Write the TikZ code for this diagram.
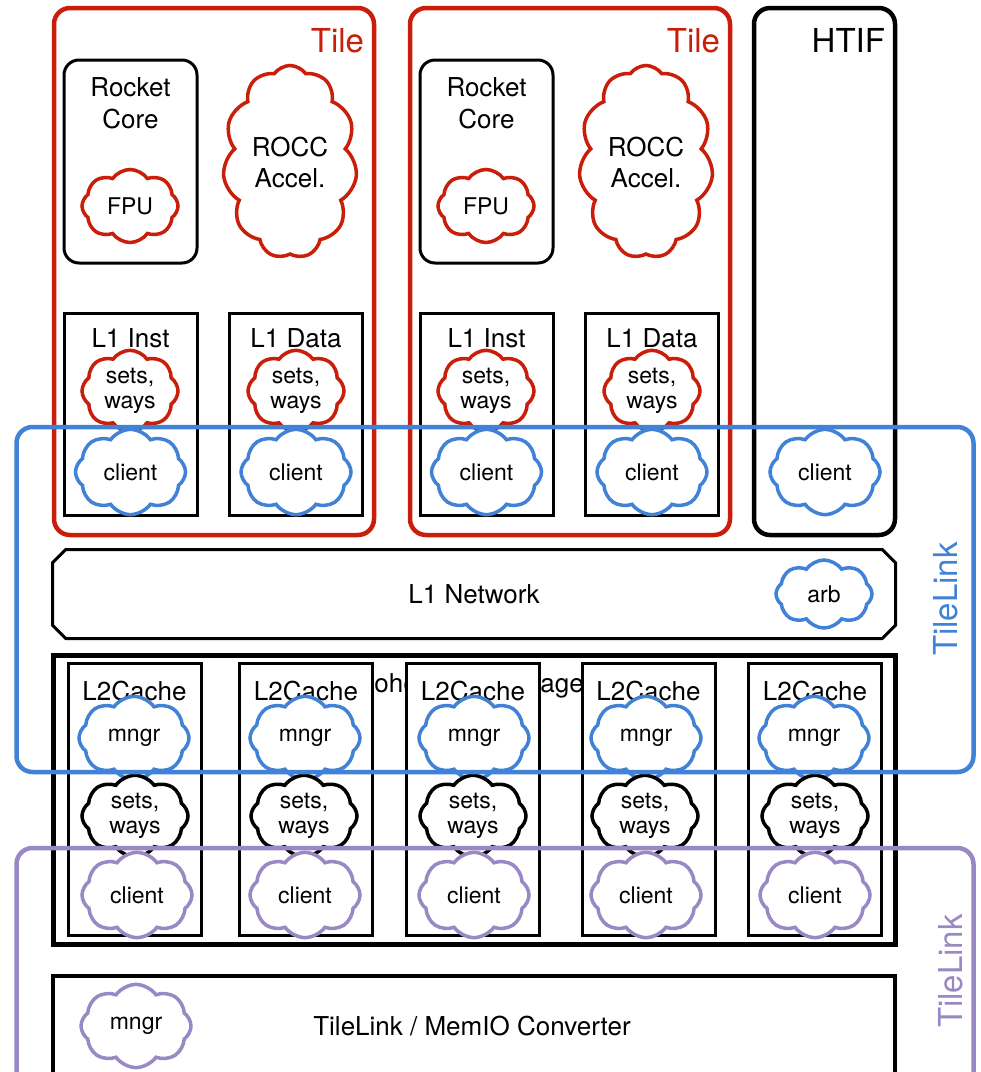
\documentclass[tikz,border=0pt]{standalone}
\usepackage{fontspec}
\setmainfont{TeX Gyre Heros}
\usetikzlibrary{positioning, shapes.symbols, shapes.misc}

\definecolor{tilered}{RGB}{200,30,10}
\definecolor{linkblue}{RGB}{65,130,215}
\definecolor{linkpurple}{RGB}{152,136,196}

\begin{document}
\begin{tikzpicture}[x=1pt, y=-1pt,
  tile/.style={draw=tilered, line width=4.5pt, rounded corners=16pt,
    minimum width=320pt, minimum height=527pt, inner sep=0pt},
  htifbox/.style={draw, line width=4.5pt, rounded corners=16pt,
    minimum width=141pt, minimum height=527pt, inner sep=0pt},
  corebox/.style={draw, line width=3pt, rounded corners=15pt, fill=white,
    minimum width=133pt, minimum height=203pt, inner sep=0pt},
  cachebox/.style={draw, line width=3pt, fill=white,
    minimum width=133pt, minimum height=202pt, inner sep=0pt},
  l2box/.style={draw, line width=3pt, fill=white,
    minimum width=133pt, minimum height=272pt, inner sep=0pt},
  blob/.style={cloud, draw, line width=3.5pt, fill=white, cloud puffs=8,
    cloud puff arc=110, inner sep=0pt, align=center,
    font=\fontsize{23}{25}\selectfont},
  smallblob/.style={blob, minimum width=96pt, minimum height=66pt},
  wideblob/.style={blob, minimum width=110pt, minimum height=64pt},
  bigtext/.style={inner sep=0pt, align=center, font=\fontsize{26}{32}\selectfont},
  titletext/.style={inner sep=0pt, font=\fontsize{33}{36}\selectfont},
  linkframe/.style={draw, line width=4.5pt, rounded corners=16pt,
    inner sep=0pt, minimum width=957pt}]

  \clip (0,0) rectangle (981,1072);

  % tiles and HTIF
  \node[tile] (tileA) at (214,271.5) {};
  \node[tile] (tileB) at (570,271.5) {};
  \node[htifbox] (htif) at (824.5,271.5) {};
  \node[titletext, text=tilered, below left=22pt and 12pt of tileA.north east] (tileAlbl) {Tile};
  \node[titletext, text=tilered, below left=22pt and 12pt of tileB.north east] (tileBlbl) {Tile};
  \node[titletext, below left=22pt and 12pt of htif.north east] (htiflbl) {HTIF};

  % tile A
  \node[corebox] (coreA) at (130.5,161.5) {};
  \node[bigtext, below=19pt of coreA.north] (coreAlbl) {Rocket\\Core};
  \node[smallblob, draw=tilered, minimum height=68pt] (fpuA) at (130,206) {FPU};
  \node[blob, draw=tilered, cloud puffs=11, font=\fontsize{26}{31}\selectfont,
    minimum width=134pt, minimum height=193pt] (roccA) at (290,162) {ROCC\\Accel.};
  \node[cachebox] (instA) at (130.5,414) {};
  \node[bigtext, below=17pt of instA.north] (instAlbl) {L1 Inst};
  \node[smallblob, draw=tilered] (setsA1) at (130,391) {sets,\\ways};
  \node[wideblob, draw=linkblue] (clientA1) at (130.5,472) {client};
  \node[cachebox] (dataA) at (296,414) {};
  \node[bigtext, below=17pt of dataA.north] (dataAlbl) {L1 Data};
  \node[smallblob, draw=tilered] (setsA2) at (296,391) {sets,\\ways};
  \node[wideblob, draw=linkblue] (clientA2) at (296,472) {client};

  % tile B
  \node[corebox] (coreB) at (486.5,161.5) {};
  \node[bigtext, below=19pt of coreB.north] (coreBlbl) {Rocket\\Core};
  \node[smallblob, draw=tilered, minimum height=68pt] (fpuB) at (486,206) {FPU};
  \node[blob, draw=tilered, cloud puffs=11, font=\fontsize{26}{31}\selectfont,
    minimum width=134pt, minimum height=193pt] (roccB) at (646,162) {ROCC\\Accel.};
  \node[cachebox] (instB) at (486.5,414) {};
  \node[bigtext, below=17pt of instB.north] (instBlbl) {L1 Inst};
  \node[smallblob, draw=tilered] (setsB1) at (486,391) {sets,\\ways};
  \node[wideblob, draw=linkblue] (clientB1) at (486.5,472) {client};
  \node[cachebox] (dataB) at (652,414) {};
  \node[bigtext, below=17pt of dataB.north] (dataBlbl) {L1 Data};
  \node[smallblob, draw=tilered] (setsB2) at (652,391) {sets,\\ways};
  \node[wideblob, draw=linkblue] (clientB2) at (652,472) {client};

  \node[wideblob, draw=linkblue] (clientH) at (825,472) {client};

  % L1 network
  \node[chamfered rectangle, chamfered rectangle xsep=14pt, draw, line width=3pt,
    minimum width=843pt, minimum height=89pt, inner sep=0pt,
    font=\fontsize{26}{32}\selectfont] (l1net) at (474,594) {L1 Network};
  \node[smallblob, draw=linkblue, minimum height=68pt] (arb) at (824,594) {arb};

  % coherence manager
  \node[draw, line width=5pt, minimum width=842pt, minimum height=289pt,
    inner sep=0pt] (coh) at (474,799.5) {};
  \node[bigtext, below=20pt of coh.north] (cohlbl) {Coherence Manager};

  \node[l2box] (l2A) at (134.5,799) {};
  \node[bigtext, below=19pt of l2A.north] (l2Albl) {L2Cache};
  \node[wideblob, draw=linkblue, minimum height=62pt] (mngrA) at (134,738) {mngr};
  \node[blob, minimum width=106pt, minimum height=68pt] (setsL2A) at (135,816) {sets,\\ways};
  \node[wideblob, draw=linkpurple, minimum height=65pt] (clientL2A) at (137,895) {client};

  \node[l2box] (l2B) at (306,799) {};
  \node[bigtext, below=19pt of l2B.north] (l2Blbl) {L2Cache};
  \node[wideblob, draw=linkblue, minimum height=62pt] (mngrB) at (305,738) {mngr};
  \node[blob, minimum width=106pt, minimum height=68pt] (setsL2B) at (304,816) {sets,\\ways};
  \node[wideblob, draw=linkpurple, minimum height=65pt] (clientL2B) at (305,895) {client};

  \node[l2box] (l2C) at (473,799) {};
  \node[bigtext, below=19pt of l2C.north] (l2Clbl) {L2Cache};
  \node[wideblob, draw=linkblue, minimum height=62pt] (mngrC) at (474,738) {mngr};
  \node[blob, minimum width=106pt, minimum height=68pt] (setsL2C) at (473,816) {sets,\\ways};
  \node[wideblob, draw=linkpurple, minimum height=65pt] (clientL2C) at (474,895) {client};

  \node[l2box] (l2D) at (648.5,799) {};
  \node[bigtext, below=19pt of l2D.north] (l2Dlbl) {L2Cache};
  \node[wideblob, draw=linkblue, minimum height=62pt] (mngrD) at (646,738) {mngr};
  \node[blob, minimum width=106pt, minimum height=68pt] (setsL2D) at (645,816) {sets,\\ways};
  \node[wideblob, draw=linkpurple, minimum height=65pt] (clientL2D) at (646,895) {client};

  \node[l2box] (l2E) at (815,799) {};
  \node[bigtext, below=19pt of l2E.north] (l2Elbl) {L2Cache};
  \node[wideblob, draw=linkblue, minimum height=62pt] (mngrE) at (814,738) {mngr};
  \node[blob, minimum width=106pt, minimum height=68pt] (setsL2E) at (815,816) {sets,\\ways};
  \node[wideblob, draw=linkpurple, minimum height=65pt] (clientL2E) at (815,895) {client};

  % converter
  \node[draw, line width=4pt, minimum width=842pt, minimum height=130pt,
    inner sep=0pt] (conv) at (474,1041) {};
  \node[bigtext] (convlbl) at (472,1026) {TileLink / MemIO Converter};
  \node[smallblob, draw=linkpurple, minimum width=110pt, minimum height=68pt] (mngrM) at (136,1026) {mngr};

  % TileLink frames
  \node[linkframe, draw=linkblue, minimum height=345pt] (linkTop) at (495,599.5) {};
  \node[titletext, text=linkblue, rotate=90] (linkToplbl) at (946,599) {TileLink};
  \node[linkframe, draw=linkpurple, minimum height=280pt] (linkBot) at (495,988) {};
  \node[titletext, text=linkpurple, rotate=90] (linkBotlbl) at (951,971) {TileLink};
\end{tikzpicture}
\end{document}
